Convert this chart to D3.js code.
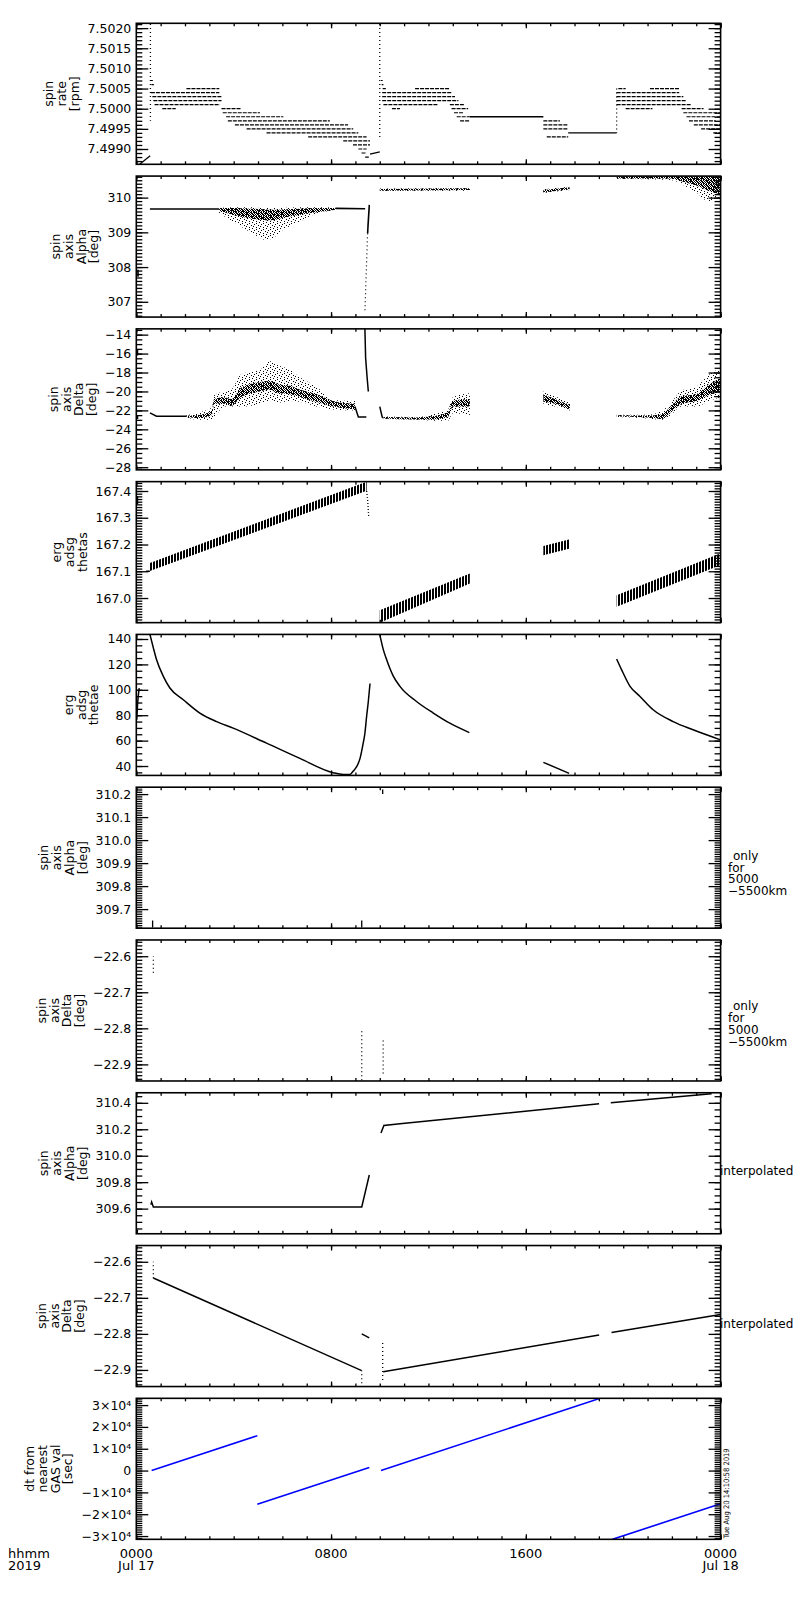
<!DOCTYPE html>
<html>
<head>
<meta charset="utf-8">
<script src="https://cdn.jsdelivr.net/npm/d3@7"></script>
<style>
body { margin: 0; background: #fff; }
svg { display: block; }
text { font-family: "DejaVu Sans", "Liberation Sans", sans-serif; fill: #000; }
</style>
</head>
<body>
<div id="chart"></div>
<script>
// ---- time axis (hours from 2019-07-17 00:00) ----
const hourTicks = [0,1,2,3,4,5,6,7,8,9,10,11,12,13,14,15,16,17,18,19,20,21,22,23,24];
const majorHours = [0, 8, 16, 24];
const hourLabels = [["0000", "Jul 17"], ["0800", ""], ["1600", ""], ["0000", "Jul 18"]];

// ---- y tick values ----
const rateTicks = [7.4990, 7.4995, 7.5000, 7.5005, 7.5010, 7.5015, 7.5020];
const alphaTicks = [307, 308, 309, 310];
const deltaTicks = [-28, -26, -24, -22, -20, -18, -16, -14];
const thetasTicks = [167.0, 167.1, 167.2, 167.3, 167.4];
const thetaeTicks = [40, 60, 80, 100, 120, 140];
const alphaOnlyTicks = [309.7, 309.8, 309.9, 310.0, 310.1, 310.2];
const deltaOnlyTicks = [-22.9, -22.8, -22.7, -22.6];
const alphaIntTicks = [309.6, 309.8, 310.0, 310.2, 310.4];
const deltaIntTicks = [-22.9, -22.8, -22.7, -22.6];
const dtTicks = [-30000, -20000, -10000, 0, 10000, 20000, 30000];

// ---- panel 1: spin rate, quantised levels [start h, end h, rpm] ----
const rateLevels = [
  [0.60, 0.68, 7.5007], [0.62, 0.72, 7.5006],
  [0.60, 3.41, 7.5004], [2.06, 3.41, 7.5005], [0.66, 3.50, 7.5003], [0.70, 3.50, 7.5002], [0.75, 3.43, 7.5001],
  [1.07, 1.62, 7.5000], [3.50, 4.30, 7.5000], [3.55, 5.08, 7.4999], [3.69, 6.04, 7.4998], [3.76, 7.95, 7.4997],
  [4.05, 8.70, 7.4996], [4.53, 8.91, 7.4995], [5.35, 9.12, 7.4994], [7.06, 9.46, 7.4993], [8.50, 9.60, 7.4992],
  [8.90, 9.60, 7.4991], [9.12, 9.46, 7.4990], [9.25, 9.46, 7.4989], [9.40, 9.55, 7.4988],
  [10.05, 10.12, 7.5007], [10.08, 10.15, 7.5006], [10.12, 10.25, 7.5005],
  [10.10, 12.95, 7.5004], [11.45, 12.88, 7.5005], [10.10, 13.09, 7.5003], [10.10, 13.23, 7.5002],
  [10.15, 12.40, 7.5001], [12.88, 13.46, 7.5001], [10.50, 10.83, 7.5000], [12.95, 13.63, 7.5000],
  [13.05, 13.43, 7.4999], [13.16, 13.70, 7.4998], [13.30, 13.70, 7.4997],
  [16.72, 17.40, 7.4997], [16.72, 17.74, 7.4996], [16.72, 17.74, 7.4995], [16.86, 17.74, 7.4993],
  [19.80, 20.10, 7.5005], [21.10, 22.30, 7.5005], [19.73, 22.30, 7.5004], [19.73, 22.47, 7.5003],
  [19.73, 22.60, 7.5002], [19.73, 22.80, 7.5001], [20.10, 21.20, 7.5000], [22.40, 23.30, 7.5000],
  [22.47, 24.00, 7.4999], [22.60, 24.00, 7.4998], [22.70, 23.80, 7.4997], [22.90, 24.00, 7.4996],
  [23.20, 24.00, 7.4995], [23.70, 24.00, 7.4994]
];
const rateFlat = [[13.70, 16.72, 7.4998], [17.74, 19.73, 7.4994]];
const rateSpikes = [[0.58, 7.5021, 7.4997], [10.00, 7.5021, 7.4993], [19.73, 7.5005, 7.4994]];
const rateRamps = [[[0.14, 7.49862], [0.57, 7.49883]], [[9.60, 7.49887], [10.00, 7.49893]]];

// ---- panel 2: spin axis alpha; bands = [h, coreLo, coreHi, scatterLo, scatterHi] ----
const alphaLines = [
  [[0.56, 309.67], [3.40, 309.67]],
  [[8.20, 309.69], [9.40, 309.68]],
  [[9.57, 309.79], [9.50, 308.97]],
  [[0.07, 307.92], [0.07, 307.72]]
];
const alphaDots = [[[9.50, 308.97], [9.39, 306.71]]];
const alphaBands = [
  [[3.40, 309.62, 309.70, 309.54, 309.70], [4.00, 309.50, 309.70, 309.30, 309.72], [4.70, 309.40, 309.68, 309.00, 309.72],
   [5.35, 309.35, 309.66, 308.78, 309.70], [5.60, 309.35, 309.65, 308.83, 309.70], [6.00, 309.42, 309.66, 309.06, 309.70],
   [6.70, 309.50, 309.68, 309.30, 309.72], [7.40, 309.58, 309.70, 309.54, 309.72], [8.20, 309.65, 309.70, 309.63, 309.71]],
  [[10.00, 310.20, 310.25, 310.19, 310.26], [13.70, 310.22, 310.27, 310.20, 310.28]],
  [[16.72, 310.15, 310.22, 310.13, 310.24], [17.80, 310.24, 310.30, 310.22, 310.31]],
  [[19.73, 310.55, 310.61, 310.54, 310.62], [22.00, 310.55, 310.62, 310.50, 310.62], [22.50, 310.45, 310.62, 310.35, 310.62],
   [23.00, 310.35, 310.62, 310.15, 310.62], [23.50, 310.20, 310.62, 309.90, 310.62], [24.00, 310.10, 310.62, 310.00, 310.62]]
];

// ---- panel 3: spin axis delta ----
const deltaLines = [
  [[0.56, -22.26], [0.83, -22.62], [2.06, -22.62]],
  [[8.98, -21.60], [9.12, -22.69], [9.45, -22.69]],
  [[9.39, -13.40], [9.42, -16.50], [9.48, -18.50], [9.53, -20.00]],
  [[10.00, -21.60], [10.10, -22.70], [10.15, -22.78]],
  [[0.05, -15.60], [0.05, -16.20]],
  [[0.05, -22.60], [0.05, -22.90]]
];
const deltaBands = [
  [[2.06, -22.70, -22.55, -22.75, -22.50], [2.61, -22.80, -22.45, -23.00, -22.20], [3.10, -22.50, -22.00, -23.00, -21.70],
   [3.20, -21.30, -20.80, -22.80, -20.40], [3.60, -21.30, -20.60, -21.60, -20.00], [3.90, -21.50, -20.80, -21.60, -19.80],
   [4.30, -20.60, -19.60, -21.60, -18.20], [5.08, -20.00, -19.00, -21.30, -17.70], [5.50, -19.80, -18.90, -21.00, -16.80],
   [5.80, -20.20, -19.20, -21.20, -17.20], [6.31, -20.30, -19.40, -21.00, -17.70], [6.72, -20.60, -19.80, -21.10, -18.50],
   [7.40, -21.10, -20.30, -21.60, -19.50], [8.09, -21.60, -21.00, -21.90, -20.90], [8.98, -21.90, -21.30, -22.00, -21.00]],
  [[10.15, -22.85, -22.70, -22.90, -22.65], [11.50, -22.95, -22.75, -23.00, -22.70], [12.20, -22.95, -22.60, -23.10, -22.40],
   [12.80, -22.70, -22.20, -23.10, -21.90], [13.00, -21.60, -21.00, -22.30, -20.60], [13.70, -21.60, -20.80, -22.50, -20.20]],
  [[16.72, -21.10, -20.30, -21.30, -20.00], [17.20, -21.30, -20.80, -21.60, -20.50], [17.81, -21.90, -21.40, -22.00, -21.20]],
  [[19.73, -22.65, -22.50, -22.70, -22.45], [21.00, -22.75, -22.55, -22.85, -22.45], [21.60, -22.90, -22.40, -23.00, -22.00],
   [21.90, -22.30, -21.70, -22.60, -21.40], [22.40, -21.30, -20.50, -21.60, -19.90], [23.00, -21.00, -20.30, -21.60, -19.50],
   [23.50, -20.40, -19.30, -21.00, -18.30], [24.00, -20.00, -18.60, -20.60, -17.50]]
];

// ---- panel 4: erg adsg thetas, sawtooth band [h, lo, hi] ----
const thetasBands = [
  [[0.56, 167.101, 167.131], [9.46, 167.401, 167.435]],
  [[10.00, 166.908, 166.954], [13.70, 167.054, 167.092]],
  [[16.72, 167.160, 167.194], [17.81, 167.185, 167.220]],
  [[19.73, 166.967, 167.010], [24.00, 167.123, 167.167]]
];
const thetasLines = [
  [[0.40, 167.10], [0.56, 167.10]],
  [[0.05, 167.38], [0.05, 167.35]]
];
const thetasDots = [[[9.46, 167.40], [9.50, 167.37], [9.55, 167.30]]];

// ---- panel 5: erg adsg thetae ----
const thetaeLines = [
  [[0.02, 76.4], [0.05, 88.0], [0.12, 101.4]],
  [[0.56, 143.6], [0.70, 133.0], [0.83, 123.8], [1.11, 110.6], [1.38, 101.4], [1.93, 92.2], [2.61, 81.7], [3.30, 75.0],
   [3.98, 69.8], [5.35, 58.0], [6.72, 46.0], [8.09, 34.7], [8.50, 33.4], [8.77, 33.4], [8.91, 36.0], [9.05, 39.5],
   [9.19, 46.0], [9.32, 58.0], [9.39, 65.8], [9.46, 79.0], [9.53, 90.8], [9.60, 105.0]],
  [[10.00, 143.6], [10.14, 132.0], [10.28, 123.8], [10.55, 111.0], [10.83, 102.7], [11.51, 90.8], [12.20, 81.7],
   [12.88, 73.7], [13.68, 66.3]],
  [[16.72, 42.9], [17.78, 34.2]],
  [[19.73, 124.3], [19.93, 115.9], [20.28, 102.7], [20.69, 94.8], [21.23, 84.3], [22.05, 75.0], [22.87, 68.5], [24.00, 60.6]]
];

// ---- panel 6 / 7: only for 5000-5500 km, short vertical marks [h, lo, hi] ----
const alphaOnlyMarks = [[0.67, 309.62, 309.65], [9.26, 309.62, 309.65], [10.12, 310.20, 310.22]];
const deltaOnlyMarks = [[0.70, -22.646, -22.600], [9.26, -22.944, -22.800], [10.14, -22.925, -22.827]];

// ---- panel 8 / 9: interpolated ----
const alphaIntLines = [
  [[0.02, 309.41], [0.05, 309.44]],
  [[0.60, 309.63], [0.63, 309.65], [0.70, 309.612], [9.26, 309.612], [9.57, 309.854]],
  [[10.05, 310.171], [10.17, 310.229], [10.83, 310.242], [19.01, 310.392]],
  [[19.49, 310.400], [23.63, 310.469]]
];
const deltaIntLines = [
  [[0.02, -22.72], [0.03, -22.74]],
  [[0.70, -22.645], [9.26, -22.902]],
  [[9.26, -22.800], [9.57, -22.811]],
  [[10.14, -22.905], [19.01, -22.803]],
  [[19.52, -22.796], [24.00, -22.746]]
];
const deltaIntMarks = [[0.70, -22.646, -22.600], [9.26, -22.948, -22.902], [10.12, -22.928, -22.825]];

// ---- panel 10: dt from nearest GAS value [h, sec] ----
const dtLines = [
  [[0.00, 2000], [0.05, 2200]],
  [[0.63, 0], [4.97, 16000]],
  [[4.97, -15400], [9.57, 1400]],
  [[10.05, 0], [19.05, 33100]],
  [[19.56, -31500], [24.00, -15200]]
];

const onlyNote = ["only", "for", "5000", "\u22125500km"];
const interpNote = ["interpolated"];

// ---------------------------------------------------------------
const left = 136.3, right = 720.6, top0 = 23.3, pitch = 152.78, ph = 141;

const x = d3.scaleLinear().domain([0, 24]).range([left, right]);

const svg = d3.select("#chart").append("svg")
    .attr("width", 800)
    .attr("height", 1600);

const defs = svg.append("defs");
function pattern(id, w, h, cells) {
  const p = defs.append("pattern").attr("id", id)
      .attr("width", w).attr("height", h)
      .attr("patternUnits", "userSpaceOnUse");
  cells.forEach(c => p.append("rect").attr("x", c[0]).attr("y", c[1])
      .attr("width", c[2] || 1).attr("height", c[3] || 1).attr("fill", "#000"));
}
// stipple tiles that imitate dense / thin point clouds
pattern("dense", 5, 4, [[0,0,2,1],[3,0],[1,1,2,1],[4,1],[0,2],[2,2,2,1],[1,3],[3,3,2,1]]);
pattern("sparse", 7, 6, [[0,0],[4,1],[2,2],[6,3],[1,4],[4,5]]);
pattern("hatch", 3, 1, [[0, 0, 2, 1]]);

const sciFmt = v => v === 0 ? "0" : (v < 0 ? "\u2212" : "") + Math.abs(v / 1e4) + "\u00d710\u2074";

const panels = [
  { title: ["spin", "rate", "[rpm]"], domain: [7.49862, 7.50212], ticks: rateTicks, minor: 0.0001, fmt: d3.format(".4f") },
  { title: ["spin", "axis", "Alpha", "[deg]"], domain: [306.56, 310.62], ticks: alphaTicks, minor: 0.1, fmt: d3.format("d") },
  { title: ["spin", "axis", "Delta", "[deg]"], domain: [-28.28, -13.39], ticks: deltaTicks, minor: 0.5, fmt: d3.format("d") },
  { title: ["erg", "adsg", "thetas"], domain: [166.908, 167.435], ticks: thetasTicks, minor: 0.01, fmt: d3.format(".1f") },
  { title: ["erg", "adsg", "thetae"], domain: [32.6, 143.6], ticks: thetaeTicks, minor: 5, fmt: d3.format("d") },
  { title: ["spin", "axis", "Alpha", "[deg]"], domain: [309.617, 310.23], ticks: alphaOnlyTicks, minor: 0.01, fmt: d3.format(".1f"), note: onlyNote, noteDy: -2 },
  { title: ["spin", "axis", "Delta", "[deg]"], domain: [-22.946, -22.555], ticks: deltaOnlyTicks, minor: 0.01, fmt: d3.format(".1f"), note: onlyNote, noteDy: -4 },
  { title: ["spin", "axis", "Alpha", "[deg]"], domain: [309.41, 310.476], ticks: alphaIntTicks, minor: 0.05, fmt: d3.format(".1f"), note: interpNote, noteDy: 8 },
  { title: ["spin", "axis", "Delta", "[deg]"], domain: [-22.946, -22.555], ticks: deltaIntTicks, minor: 0.01, fmt: d3.format(".1f"), note: interpNote, noteDy: 8 },
  { title: ["dt from", "nearest", "GAS val", "[sec]"], domain: [-31500, 33100], ticks: dtTicks, minor: 1000, fmt: sciFmt }
];

function minorTicks(dom, step) {
  const out = [];
  for (let k = Math.ceil(dom[0] / step - 1e-9); k * step <= dom[1] + 1e-12; k++) out.push(+(k * step).toFixed(6));
  return out;
}

function styleAxis(sel) {
  sel.select(".domain").remove();
  sel.selectAll("line").attr("stroke", "#000").attr("stroke-width", 1.3);
  sel.selectAll("text").attr("font-size", 12.5).attr("font-family", null).attr("fill", "#000");
}

panels.forEach((p, i) => {
  const top = top0 + i * pitch, bottom = top + ph;
  const y = d3.scaleLinear().domain(p.domain).range([bottom, top]);
  p.y = y;

  defs.append("clipPath").attr("id", "clip" + i)
    .append("rect").attr("x", left).attr("y", top).attr("width", right - left).attr("height", ph);
  p.plot = svg.append("g").attr("clip-path", `url(#clip${i})`);

  const ax = svg.append("g");
  const mnr = minorTicks(p.domain, p.minor);

  // left axis (ticks point inward)
  ax.append("g").attr("transform", `translate(${left},0)`)
    .call(d3.axisLeft(y).tickValues(mnr).tickSize(-6).tickFormat(""))
    .call(styleAxis);
  const lab = ax.append("g").attr("transform", `translate(${left},0)`)
    .call(d3.axisLeft(y).tickValues(p.ticks).tickSize(-12).tickPadding(5).tickFormat(p.fmt))
    .call(styleAxis);

  // right axis
  ax.append("g").attr("transform", `translate(${right},0)`)
    .call(d3.axisRight(y).tickValues(mnr).tickSize(-6).tickFormat(""))
    .call(styleAxis);
  ax.append("g").attr("transform", `translate(${right},0)`)
    .call(d3.axisRight(y).tickValues(p.ticks).tickSize(-12).tickFormat(""))
    .call(styleAxis);

  // top and bottom time axes
  ax.append("g").attr("transform", `translate(0,${top})`)
    .call(d3.axisTop(x).tickValues(hourTicks).tickSize(-3).tickFormat(""))
    .call(styleAxis);
  ax.append("g").attr("transform", `translate(0,${top})`)
    .call(d3.axisTop(x).tickValues(majorHours).tickSize(-5).tickFormat(""))
    .call(styleAxis);
  ax.append("g").attr("transform", `translate(0,${bottom})`)
    .call(d3.axisBottom(x).tickValues(hourTicks).tickSize(-3).tickFormat(""))
    .call(styleAxis);
  ax.append("g").attr("transform", `translate(0,${bottom})`)
    .call(d3.axisBottom(x).tickValues(majorHours).tickSize(-5).tickFormat(""))
    .call(styleAxis);

  ax.append("rect").attr("x", left).attr("y", top)
    .attr("width", right - left).attr("height", ph)
    .attr("fill", "none").attr("stroke", "#000").attr("stroke-width", 1.6);

  // multi-line rotated title, placed left of the tick labels
  const minX = left + lab.node().getBBox().x;
  const n = p.title.length, mid = (top + bottom) / 2;
  p.title.forEach((t, k) => {
    const cx = minX - 13.5 - (n - 1 - k) * 12.7;
    ax.append("text")
      .attr("transform", `translate(${cx},${mid}) rotate(-90)`)
      .attr("text-anchor", "middle")
      .attr("dominant-baseline", "central")
      .attr("font-size", 12.5)
      .text(t);
  });

  if (p.note) {
    const nt = ax.append("text").attr("font-size", 12).attr("dominant-baseline", "central");
    p.note.forEach((t, k) => {
      nt.append("tspan")
        .attr("x", p.note.length > 1 ? (k === 0 ? 733 : 728) : 720)
        .attr("y", mid + p.noteDy + k * 11.8)
        .text(t);
    });
  }
});

// ---- mark helpers ----
function line(k, pts, width, smooth) {
  const p = panels[k];
  const gen = d3.line().x(d => x(d[0])).y(d => p.y(d[1]));
  if (smooth) gen.curve(d3.curveMonotoneX);
  return p.plot.append("path").datum(pts)
    .attr("d", gen)
    .attr("fill", "none").attr("stroke", "#000")
    .attr("stroke-width", width || 1.4);
}
function band(k, rows) {
  const p = panels[k];
  p.plot.append("path").datum(rows)
    .attr("d", d3.area().x(d => x(d[0])).y0(d => p.y(d[3])).y1(d => p.y(d[4])).curve(d3.curveMonotoneX))
    .attr("fill", "url(#sparse)");
  p.plot.append("path").datum(rows)
    .attr("d", d3.area().x(d => x(d[0])).y0(d => p.y(d[1])).y1(d => p.y(d[2])).curve(d3.curveMonotoneX))
    .attr("fill", "url(#dense)");
}
function marks(k, items, dash) {
  items.forEach(d => line(k, [[d[0], d[1]], [d[0], d[2]]], 1.3).attr("stroke-dasharray", dash));
}

// panel 1
rateLevels.forEach(d => line(0, [[d[0], d[2]], [d[1], d[2]]], 1.2).attr("stroke-dasharray", "4,1"));
rateFlat.forEach(d => line(0, [[d[0], d[2]], [d[1], d[2]]], 1.3));
rateSpikes.forEach(d => line(0, [[d[0], d[1]], [d[0], d[2]]], 1.3).attr("stroke-dasharray", "1,3"));
rateRamps.forEach(d => line(0, d, 1.3));

// panel 2
alphaBands.forEach(b => band(1, b));
alphaLines.forEach(d => line(1, d, 1.6));
alphaDots.forEach(d => line(1, d, 1.2).attr("stroke-dasharray", "1,3"));

// panel 3
deltaBands.forEach(b => band(2, b));
deltaLines.forEach(d => line(2, d, 1.5));

// panel 4
thetasBands.forEach(b => {
  const p = panels[3];
  p.plot.append("path").datum(b)
    .attr("d", d3.area().x(d => x(d[0])).y0(d => p.y(d[1])).y1(d => p.y(d[2])))
    .attr("fill", "url(#hatch)");
});
thetasLines.forEach(d => line(3, d, 1.4));
thetasDots.forEach(d => line(3, d, 1.3).attr("stroke-dasharray", "1,2"));

// panel 5
thetaeLines.forEach(d => line(4, d, 1.5, true));

// panel 6, 7
marks(5, alphaOnlyMarks, null);
marks(6, deltaOnlyMarks, "1,3");

// panel 8, 9
alphaIntLines.forEach(d => line(7, d, 1.5));
deltaIntLines.forEach(d => line(8, d, 1.5));
marks(8, deltaIntMarks, "1,3");

// panel 10
dtLines.forEach(d => line(9, d, 1.6).attr("stroke", "#0000ff"));

// ---- time labels under the last panel ----
const lastBottom = top0 + 9 * pitch + ph;
majorHours.forEach((h, k) => {
  const t = svg.append("text").attr("text-anchor", "middle").attr("font-size", 13);
  t.append("tspan").attr("x", x(h)).attr("y", lastBottom + 19).text(hourLabels[k][0]);
  if (hourLabels[k][1]) t.append("tspan").attr("x", x(h)).attr("y", lastBottom + 31).text(hourLabels[k][1]);
});
const yr = svg.append("text").attr("font-size", 13);
yr.append("tspan").attr("x", 8).attr("y", lastBottom + 19).text("hhmm");
yr.append("tspan").attr("x", 8).attr("y", lastBottom + 31).text("2019");

// creation stamp
svg.append("text")
  .attr("transform", `translate(728.5,${lastBottom - 1}) rotate(-90)`)
  .attr("font-size", 7.5)
  .attr("textLength", 90)
  .attr("lengthAdjust", "spacingAndGlyphs")
  .text("Tue Aug 20 14:10:58 2019");
</script>
</body>
</html>
